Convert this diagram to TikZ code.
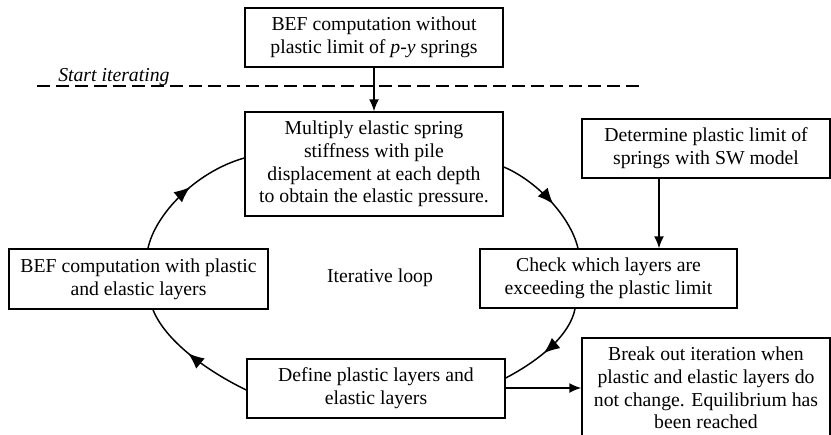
\documentclass[tikz,border=0pt]{standalone}
\usepackage{fontspec}
\setmainfont{Liberation Serif}
\usetikzlibrary{arrows.meta,decorations.markings,calc}
\begin{document}
\begin{tikzpicture}[x=0.75pt,y=-0.75pt,
  box/.style={draw,line width=1.1pt,align=center,inner sep=0pt,font=\fontsize{14.8}{17}\selectfont},
  arr/.style={line width=1.1pt,-{Latex[length=9pt,width=7.5pt]}},
  looparc/.style={line width=1.1pt,postaction={decorate},
    decoration={markings,mark=at position 0.55 with {\arrow[line width=1.1pt]{Latex[length=12pt,width=10pt]}}}},
  dashline/.style={line width=1.1pt,dash pattern=on 9.75pt off 4.5pt}]
\useasboundingbox (0,0) rectangle (831,435);
\clip (0,0) rectangle (831,435);

\node[box,minimum width=193.5pt,minimum height=44.25pt] (top) at (374,37.5)
  {BEF computation without\\plastic limit of \textit{p}-\textit{y} springs};
\node[box,minimum width=193.5pt,minimum height=78pt] (mid) at (374,164)
  {Multiply elastic spring\\stiffness with pile\\displacement at each depth\\to obtain the elastic pressure.};
\node[box,minimum width=186pt,minimum height=44.25pt] (rt) at (706,148.5)
  {Determine plastic limit of\\springs with SW model};
\node[box,minimum width=192.75pt,minimum height=44.25pt] (chk) at (608.5,278.5)
  {Check which layers are\\exceeding the plastic limit};
\node[box,minimum width=194.25pt,minimum height=45pt] (left) at (138.5,279)
  {BEF computation with plastic\\and elastic layers};
\node[box,minimum width=193.5pt,minimum height=44.25pt] (bot) at (376,388.5)
  {Define plastic layers and\\elastic layers};
\node[box,minimum width=186pt,minimum height=75pt] (brk) at (706,388)
  {Break out iteration when\\plastic and elastic layers do\\not change. Equilibrium has\\been reached};

\node[inner sep=0pt,font=\fontsize{14.8}{17}\selectfont] (lbl) at (380,278) {Iterative loop};
\node[inner sep=0pt,anchor=base west,font=\fontsize{14.8}{17}\selectfont\itshape] (si) at (58,81) {Start iterating};

\coordinate (dl) at (37,86);
\coordinate (dr) at (640,86);
\draw[dashline] (dl) -- (dr);

\coordinate (cx) at (659,0);
\draw[arr] (top) -- (mid);
\draw[arr] (rt.south -| cx) -- (chk.north -| cx);
\draw[arr] (bot.east |- brk.west) -- (brk.west);

% loop arcs
\draw[looparc] ($(left.north)+(9.5,0)$) .. controls (155,215) and (195,172) .. ($(mid.west)+(0,-6)$);
\draw[looparc] ($(mid.east)+(0,3)$) .. controls (535,180) and (570,215) .. ($(chk.north)+(-30.5,0)$);
\draw[looparc] ($(chk.south)+(-33.5,0)$) .. controls (570,335) and (540,360) .. ($(bot.east)+(0,-10.5)$);
\draw[looparc] ($(bot.west)+(0,1.5)$) .. controls (205,370) and (165,340) .. ($(left.south)+(14.5,0)$);
\end{tikzpicture}
\end{document}
